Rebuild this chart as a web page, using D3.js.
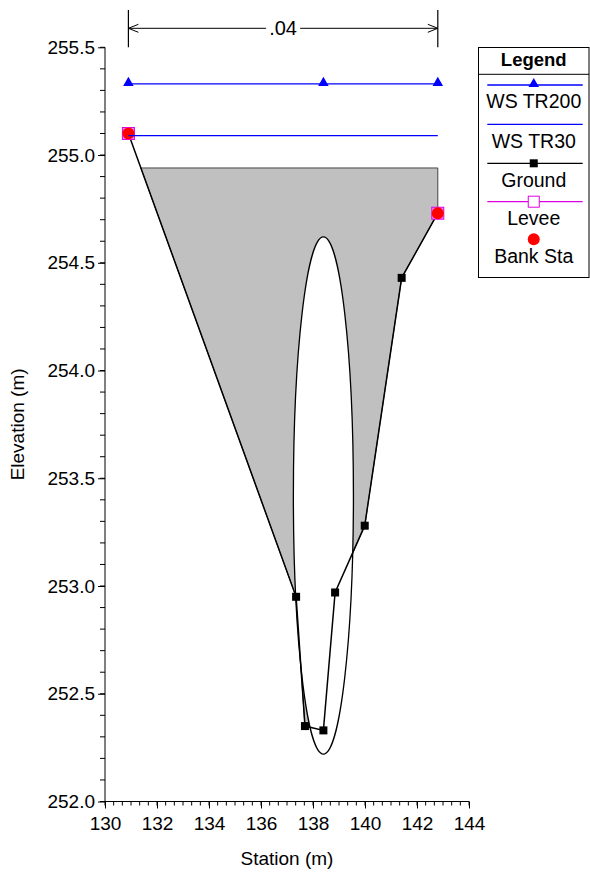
<!DOCTYPE html>
<html>
<head>
<meta charset="utf-8">
<script src="https://cdn.jsdelivr.net/npm/d3@7"></script>
<style>
  body { margin: 0; background: #fff; }
  text { font-family: Arial, "Liberation Sans", sans-serif; }
</style>
</head>
<body>
<div id="plot"></div>
<script>
// ground points (station m, elevation m)
var groundSta  = [130.9, 137.35, 137.69, 138.4, 138.85, 139.99, 141.41, 142.8];
var groundElev = [255.1, 252.95, 252.35, 252.33, 252.97, 253.28, 254.43, 254.73];

// water surfaces
var ws200Sta  = [130.9, 138.4, 142.8];
var ws200Elev = [255.33, 255.33, 255.33];
var ws30Sta   = [130.9, 142.8];
var ws30Elev  = [255.09, 255.09];

// levees and bank stations
var bankSta  = [130.9, 142.8];
var bankElev = [255.1, 254.73];

// gray blocked area (outline)
var fillSta  = [131.38, 142.8, 142.8, 141.41, 139.99, 138.85, 138.4, 137.69, 137.35];
var fillElev = [254.94, 254.94, 254.73, 254.43, 253.28, 252.97, 252.33, 252.35, 252.95];

// culvert opening
var culvertSta = 138.4;
var culvertInvert = 252.22;
var culvertSpan = 2.31;
var culvertRise = 2.4;

// manning n label
var nLabel = ".04";
var nSta = [130.9, 142.8];

var xTicks = [130, 132, 134, 136, 138, 140, 142, 144];
var yTicks = [252.0, 252.5, 253.0, 253.5, 254.0, 254.5, 255.0, 255.5];

var legendNames = ["WS TR200", "WS TR30", "Ground", "Levee", "Bank Sta"];

var width = 590;
var height = 876;
var margin = {top: 47.3, right: 121, bottom: 74.5, left: 105};
var fs = 19;

var svg = d3.select("#plot")
    .append("svg")
    .attr("width", width)
    .attr("height", height);

var x = d3.scaleLinear().domain([130, 144]).range([margin.left, width - margin.right]);
var y = d3.scaleLinear().domain([252, 255.5]).range([height - margin.bottom, margin.top]);

// gray area
var fillPts = fillSta.map(function(d, i) { return [x(d), y(fillElev[i])]; });
svg.append("path")
   .attr("d", "M" + fillPts.join("L") + "Z")
   .attr("fill", "#c0c0c0")
   .attr("stroke", "#444")
   .attr("stroke-width", 1);

// culvert
svg.append("ellipse")
   .attr("cx", x(culvertSta))
   .attr("cy", y(culvertInvert + culvertRise / 2))
   .attr("rx", x(culvertSta + culvertSpan / 2) - x(culvertSta))
   .attr("ry", y(culvertInvert) - y(culvertInvert + culvertRise / 2))
   .attr("fill", "#fff")
   .attr("stroke", "#000")
   .attr("stroke-width", 1.3);

// axes
var xAxis = d3.axisBottom(x).tickValues(xTicks).tickSize(7).tickFormat(d3.format("d"));
var gx = svg.append("g")
   .attr("transform", "translate(0," + y(252) + ")")
   .call(xAxis);
var xMinor = d3.range(130, 144.001, 1 / 3);
gx.selectAll("line.minor")
   .data(xMinor)
   .enter()
   .append("line")
   .attr("class", "minor")
   .attr("x1", function(d) { return x(d); })
   .attr("x2", function(d) { return x(d); })
   .attr("y1", 0).attr("y2", 4)
   .attr("stroke", "#000");

var yAxis = d3.axisLeft(y).tickValues(yTicks).tickSize(7).tickFormat(d3.format(".1f"));
var gy = svg.append("g")
   .attr("transform", "translate(" + x(130) + ",0)")
   .call(yAxis);
var yMinor = d3.range(252, 255.501, 0.1);
gy.selectAll("line.minor")
   .data(yMinor)
   .enter()
   .append("line")
   .attr("class", "minor")
   .attr("x1", 0).attr("x2", -5)
   .attr("y1", function(d) { return y(d); })
   .attr("y2", function(d) { return y(d); })
   .attr("stroke", "#000");

gx.select(".domain").remove();
gy.select(".domain").remove();
svg.append("line")
   .attr("x1", x(130)).attr("x2", x(144))
   .attr("y1", y(252)).attr("y2", y(252))
   .attr("stroke", "#000");
svg.append("line")
   .attr("x1", x(130)).attr("x2", x(130))
   .attr("y1", y(252)).attr("y2", y(255.5))
   .attr("stroke", "#000");

svg.selectAll(".tick text")
   .attr("font-size", fs)
   .attr("font-family", "Arial, 'Liberation Sans', sans-serif")
   .attr("fill", "#000");
gx.selectAll(".tick text").attr("dy", "0.95em");
gy.selectAll(".tick text").attr("x", -10);

svg.append("text")
   .attr("x", (x(130) + x(144)) / 2)
   .attr("y", 865)
   .attr("text-anchor", "middle")
   .attr("font-size", fs)
   .text("Station (m)");

svg.append("text")
   .attr("transform", "translate(24," + (y(252) + y(255.5)) / 2 + ") rotate(-90)")
   .attr("text-anchor", "middle")
   .attr("font-size", fs)
   .text("Elevation (m)");

// n value dimension line
var dimY = 28.3;
var x0 = x(nSta[0]), x1 = x(nSta[1]);
var xm = (x0 + x1) / 2;
nSta.forEach(function(s) {
    svg.append("line")
       .attr("x1", x(s)).attr("x2", x(s))
       .attr("y1", 10).attr("y2", y(255.5))
       .attr("stroke", "#000").attr("stroke-width", 1.2);
});
svg.append("line").attr("x1", x0).attr("x2", xm - 17).attr("y1", dimY).attr("y2", dimY).attr("stroke", "#000");
svg.append("line").attr("x1", xm + 17).attr("x2", x1).attr("y1", dimY).attr("y2", dimY).attr("stroke", "#000");
svg.append("path")
   .attr("d", "M" + (x0 + 10) + "," + (dimY - 4) + "L" + x0 + "," + dimY + "L" + (x0 + 10) + "," + (dimY + 4)
        + "M" + (x1 - 10) + "," + (dimY - 4) + "L" + x1 + "," + dimY + "L" + (x1 - 10) + "," + (dimY + 4))
   .attr("fill", "none").attr("stroke", "#000");
svg.append("text")
   .attr("x", xm).attr("y", dimY + 7)
   .attr("text-anchor", "middle")
   .attr("font-size", 20)
   .text(nLabel);

// ground
var line = d3.line().x(function(d) { return x(d[0]); }).y(function(d) { return y(d[1]); });
var groundPts = groundSta.map(function(d, i) { return [d, groundElev[i]]; });
svg.append("path")
   .attr("d", line(groundPts))
   .attr("fill", "none")
   .attr("stroke", "#000")
   .attr("stroke-width", 1.5);
svg.selectAll("rect.ground")
   .data(groundPts)
   .enter()
   .append("rect")
   .attr("class", "ground")
   .attr("x", function(d) { return x(d[0]) - 4; })
   .attr("y", function(d) { return y(d[1]) - 4; })
   .attr("width", 8).attr("height", 8)
   .attr("fill", "#000");

// levee + bank sta
var bankPts = bankSta.map(function(d, i) { return [d, bankElev[i]]; });
svg.selectAll("rect.levee")
   .data(bankPts)
   .enter()
   .append("rect")
   .attr("class", "levee")
   .attr("x", function(d) { return x(d[0]) - 6; })
   .attr("y", function(d) { return y(d[1]) - 6; })
   .attr("width", 12).attr("height", 12)
   .attr("fill", "#ff80ff")
   .attr("stroke", "#e000e0")
   .attr("stroke-width", 1);
svg.selectAll("circle.bank")
   .data(bankPts)
   .enter()
   .append("circle")
   .attr("class", "bank")
   .attr("cx", function(d) { return x(d[0]); })
   .attr("cy", function(d) { return y(d[1]); })
   .attr("r", 6)
   .attr("fill", "#ff0000");

// water surfaces
var tri = d3.symbol().type(d3.symbolTriangle).size(48);
svg.append("path")
   .attr("d", line(ws30Sta.map(function(d, i) { return [d, ws30Elev[i]]; })))
   .attr("stroke", "#0000ff").attr("stroke-width", 1.3).attr("fill", "none");
var ws200Pts = ws200Sta.map(function(d, i) { return [d, ws200Elev[i]]; });
svg.append("path")
   .attr("d", line(ws200Pts))
   .attr("stroke", "#0000ff").attr("stroke-width", 1.3).attr("fill", "none");
svg.selectAll("path.tri")
   .data(ws200Pts)
   .enter()
   .append("path")
   .attr("class", "tri")
   .attr("d", tri)
   .attr("transform", function(d) { return "translate(" + x(d[0]) + "," + (y(d[1]) - 1) + ")"; })
   .attr("fill", "#0000ff");

// legend
var lg = svg.append("g");
var lx0 = 478.5, lx1 = 589, ly0 = 47.5, ly1 = 277.5;
var lcx = (lx0 + lx1) / 2;
lg.append("rect")
  .attr("x", lx0).attr("y", ly0)
  .attr("width", lx1 - lx0).attr("height", ly1 - ly0)
  .attr("fill", "#fff").attr("stroke", "#000");
lg.append("line").attr("x1", lx0).attr("x2", lx1).attr("y1", 74.3).attr("y2", 74.3).attr("stroke", "#000");
lg.append("text")
  .attr("x", lcx).attr("y", 66)
  .attr("text-anchor", "middle")
  .attr("font-size", 18.5)
  .attr("font-weight", "bold")
  .text("Legend");

var symY = [85, 124.3, 163.3, 201.7, 239.3];
var labY = [108.3, 148.3, 186.7, 225, 262.7];
var lineCol = ["#0000ff", "#0000ff", "#000", "#e000e0", null];
lg.selectAll("line.item")
  .data(legendNames.filter(function(d, i) { return lineCol[i]; }))
  .enter()
  .append("line")
  .attr("x1", 487.3).attr("x2", 582.7)
  .attr("y1", function(d, i) { return symY[i]; })
  .attr("y2", function(d, i) { return symY[i]; })
  .attr("stroke", function(d, i) { return lineCol[i]; })
  .attr("stroke-width", 1.3);
lg.append("path").attr("d", tri).attr("transform", "translate(" + lcx + "," + (symY[0] - 1) + ")").attr("fill", "#0000ff");
lg.append("rect").attr("x", lcx - 4).attr("y", symY[2] - 4).attr("width", 8).attr("height", 8).attr("fill", "#000");
lg.append("rect").attr("x", lcx - 5.5).attr("y", symY[3] - 5.5).attr("width", 11).attr("height", 11)
  .attr("fill", "#fff").attr("stroke", "#e000e0");
lg.append("circle").attr("cx", lcx).attr("cy", symY[4]).attr("r", 6).attr("fill", "#ff0000");
lg.selectAll("text.item")
  .data(legendNames)
  .enter()
  .append("text")
  .attr("class", "item")
  .attr("x", lcx)
  .attr("y", function(d, i) { return labY[i]; })
  .attr("text-anchor", "middle")
  .attr("font-size", 19.5)
  .text(function(d) { return d; });
</script>
</body>
</html>
